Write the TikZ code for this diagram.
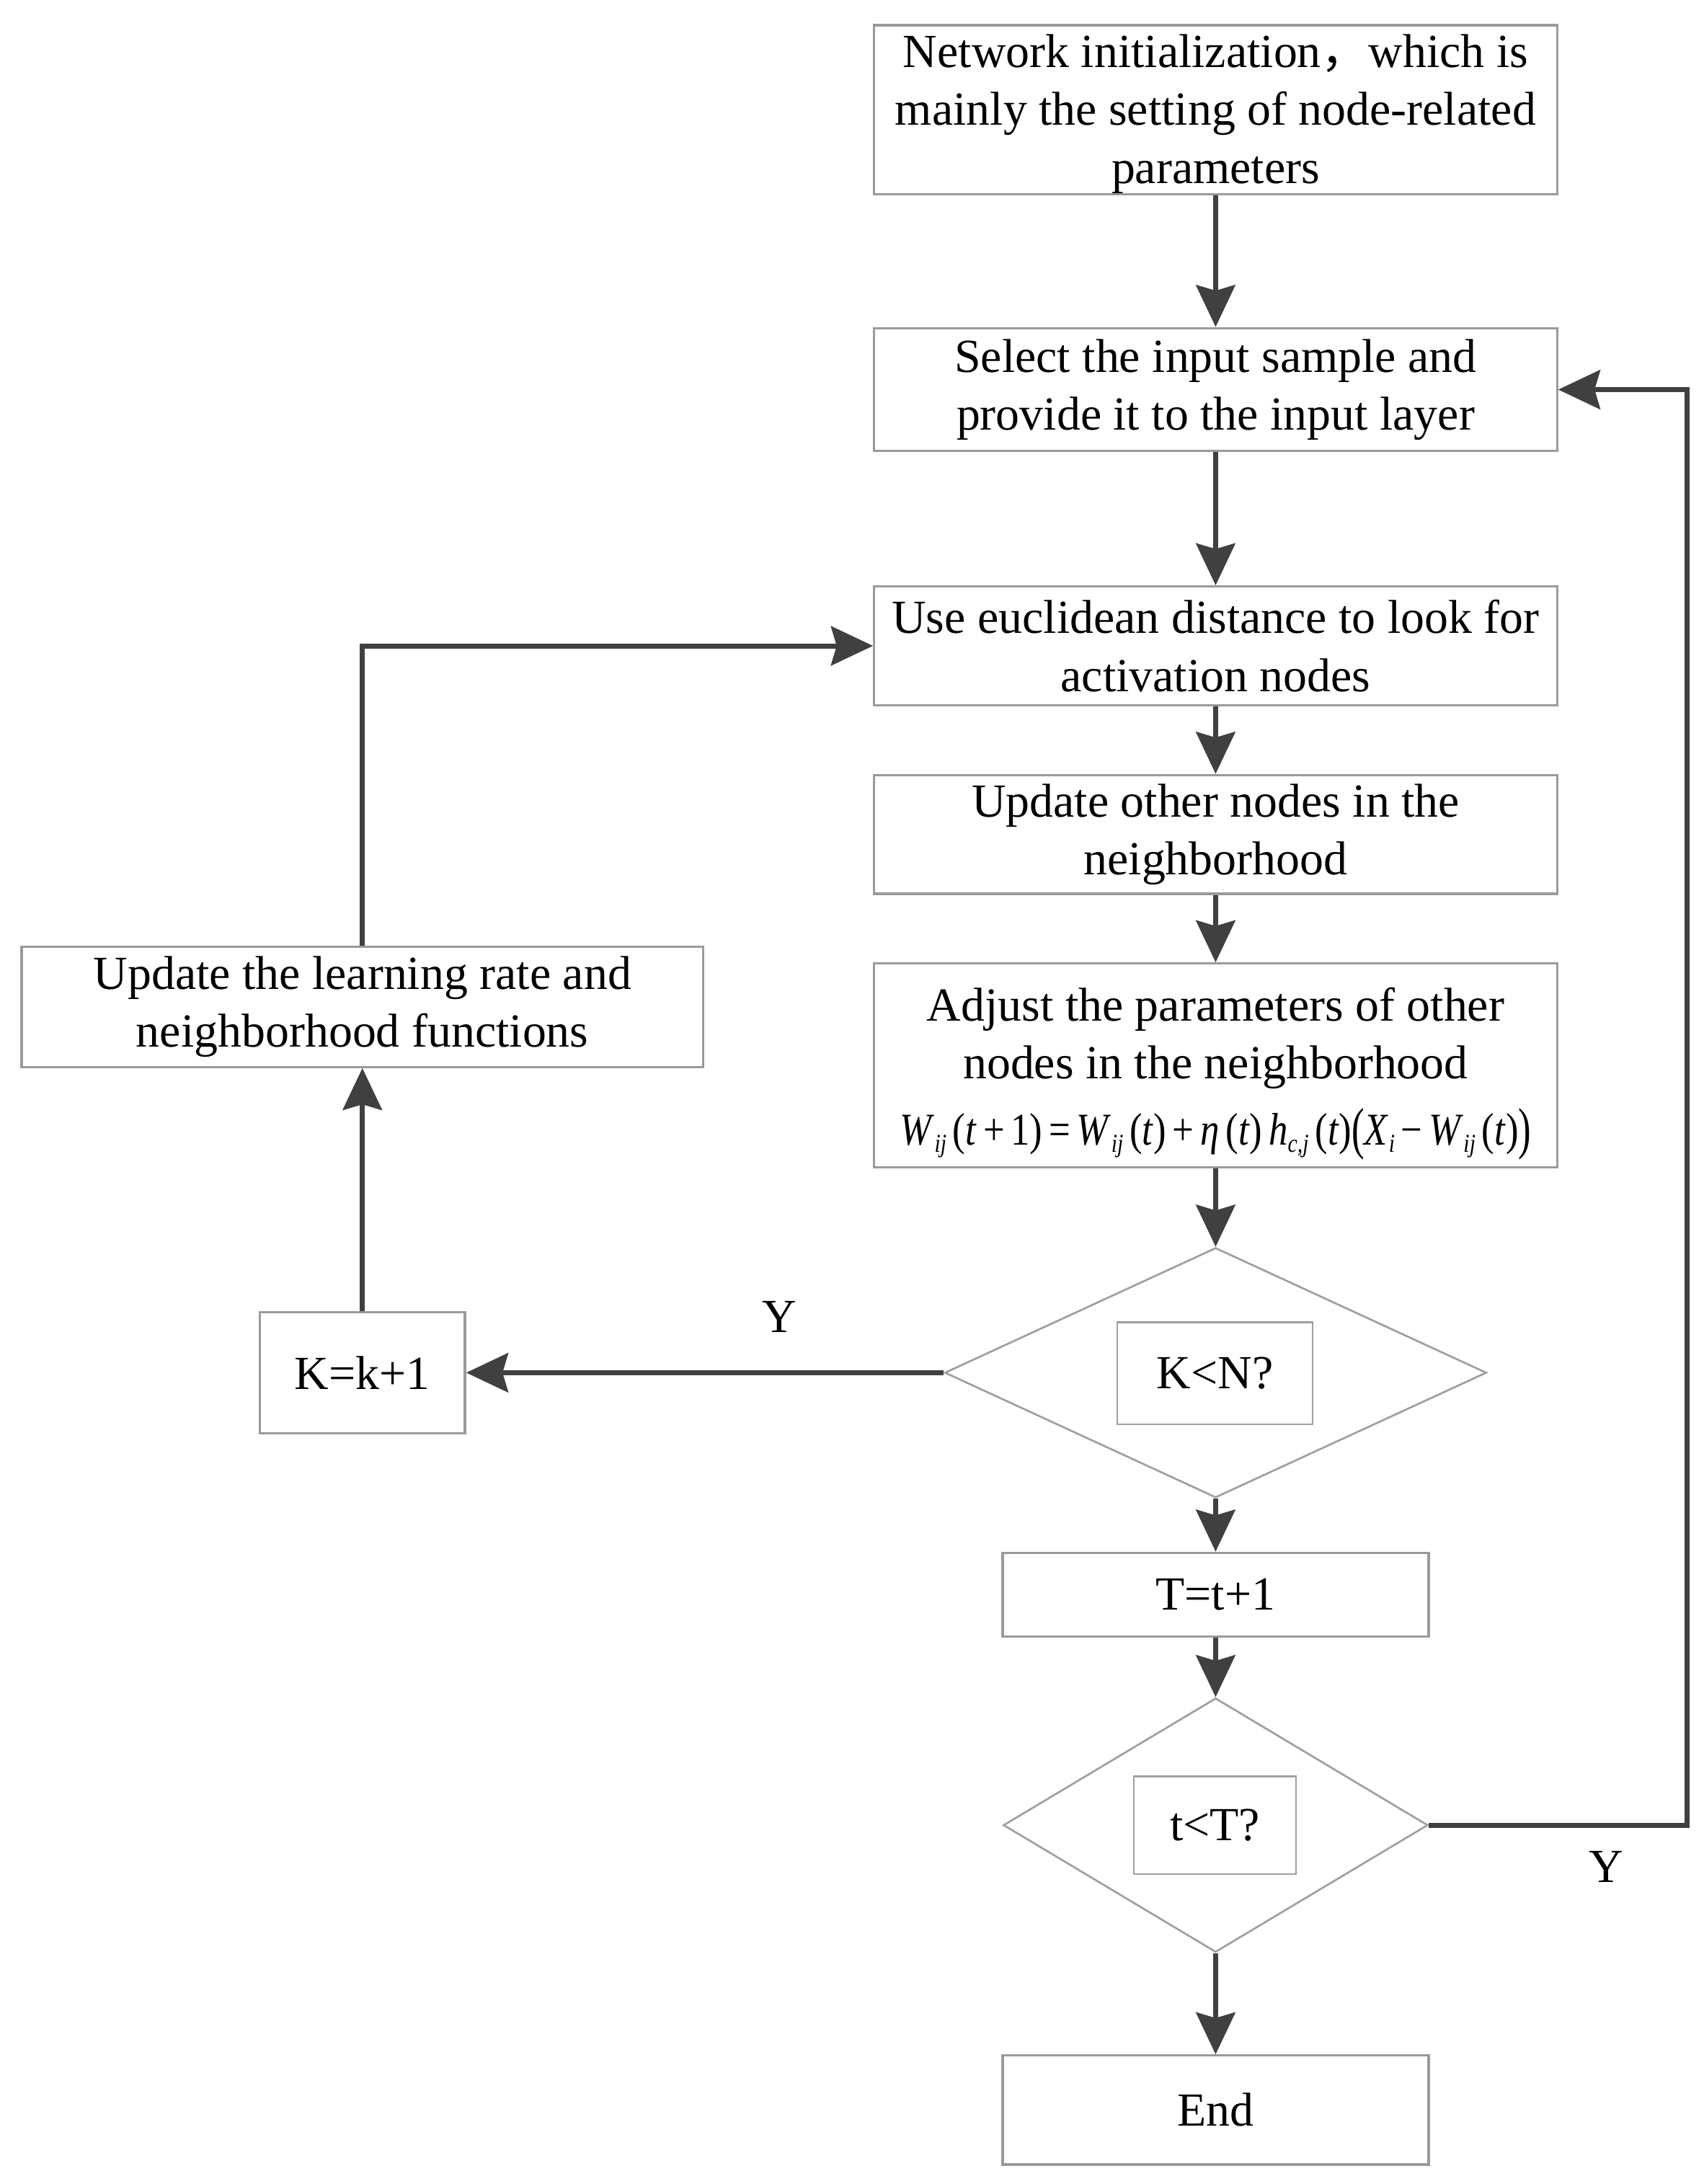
\documentclass[tikz,border=0pt]{standalone}
\usepackage{fontspec}
\usepackage{graphicx}
\setmainfont{Liberation Serif}
\newfontfamily\cjk{Noto Sans CJK SC}
\usetikzlibrary{arrows.meta,shapes.geometric}
\definecolor{arrowgray}{HTML}{404040}
\definecolor{boxgray}{HTML}{9A9A9A}
\definecolor{diagray}{HTML}{A0A0A0}
\newcommand{\mainfs}{\fontsize{34}{41.5}\selectfont}
\newcommand{\sbx}[1]{\raisebox{-0.35ex}{\fontsize{17}{17}\selectfont\textit{#1}}}
\newcommand{\bigp}[1]{\raisebox{-0.12ex}{\scalebox{1}[1.25]{#1}}}
\newcommand{\wformula}{{\fontsize{30}{30}\selectfont
  \textit{W}\sbx{ij}\,(\textit{t}\,+\,1)\,=\,\textit{W}\sbx{ij}\,(\textit{t})\,+\,\textit{η}\,(\textit{t})\,\textit{h}\sbx{c,j}\,(\textit{t})\bigp{(}\textit{X}\sbx{i}\,−\,\textit{W}\sbx{ij}\,(\textit{t})\bigp{)}}}
\begin{document}
\begin{tikzpicture}[x=1pt,y=-1pt,
  box/.style={draw=boxgray, line width=1.7pt, inner sep=0pt, align=center, font=\mainfs, text=black},
  txt/.style={inner sep=0pt, align=center, font=\mainfs, text=black},
  dia/.style={draw=diagray, line width=1.4pt, diamond, inner sep=0pt},
  conn/.style={draw=arrowgray, line width=3.6pt, -{Stealth[length=30pt,width=28pt,inset=4pt]}},
  lbl/.style={font=\mainfs, text=black, inner sep=0pt}]
\useasboundingbox (0,0) rectangle (1220,1564);
\fill[white] (0,0) rectangle (1220,1564);

\node[box, minimum width=489pt, minimum height=121pt] (b1) at (870.5,78.5) {};
\node[txt] (b1t) at (870.5,81.5)
  {Network initialization{\cjk ，}which is\\mainly the setting of node-related\\parameters};
\node[box, minimum width=489pt, minimum height=88pt] (b2) at (870.5,279)
  {Select the input sample and\\provide it to the input layer};
\node[box, minimum width=489pt, minimum height=85pt] (b3) at (870.5,462.5)
  {Use euclidean distance to look for\\activation nodes};
\node[box, minimum width=489pt, minimum height=85pt] (b4) at (870.5,597.5)
  {Update other nodes in the\\neighborhood};
\node[box, minimum width=489pt, minimum height=146pt] (b5) at (870.5,763) {};
\node[txt] (b5t) at (870.5,743.5)
  {Adjust the parameters of other\\nodes in the neighborhood};
\node[txt] (b5f) at (870.5,812) {\resizebox*{452pt}{37pt}{\wformula}};
\node[dia, minimum width=388pt, minimum height=179pt] (d1) at (870.5,983) {};
\node[box, draw=diagray, line width=1.4pt, minimum width=140pt, minimum height=73pt] (q1) at (870,983.5) {K<N?};
\node[box, minimum width=305pt, minimum height=60pt] (b6) at (870.5,1142) {T=t+1};
\node[dia, minimum width=304pt, minimum height=182pt] (d2) at (870.5,1307) {};
\node[box, draw=diagray, line width=1.4pt, minimum width=116pt, minimum height=70pt] (q2) at (870,1307) {t<T?};
\node[box, minimum width=305pt, minimum height=78pt] (b7) at (870.5,1511) {End};
\node[box, minimum width=147pt, minimum height=87pt] (k) at (259.5,983) {K=k+1};
\node[box, minimum width=488pt, minimum height=86pt] (lr) at (259.5,721)
  {Update the learning rate and\\neighborhood functions};

\node[lbl] (y1) at (558,943) {Y};
\node[lbl] (y2) at (1150,1337) {Y};
\coordinate (r1) at (1208,1307);

\draw[conn] (b1.south) -- (b2.north);
\draw[conn] (b2.south) -- (b3.north);
\draw[conn] (b3.south) -- (b4.north);
\draw[conn] (b4.south) -- (b5.north);
\draw[conn] (b5.south) -- (d1.north);
\draw[conn] (d1.south) -- (b6.north);
\draw[conn] (b6.south) -- (d2.north);
\draw[conn] (d2.south) -- (b7.north);
\draw[conn] (d1.west) -- (k.east);
\draw[conn] (k.north) -- (lr.south);
\draw[conn] (lr.north) |- (b3.west);
\draw[conn] (d2.east) -- (r1) |- (b2.east);
\end{tikzpicture}
\end{document}
